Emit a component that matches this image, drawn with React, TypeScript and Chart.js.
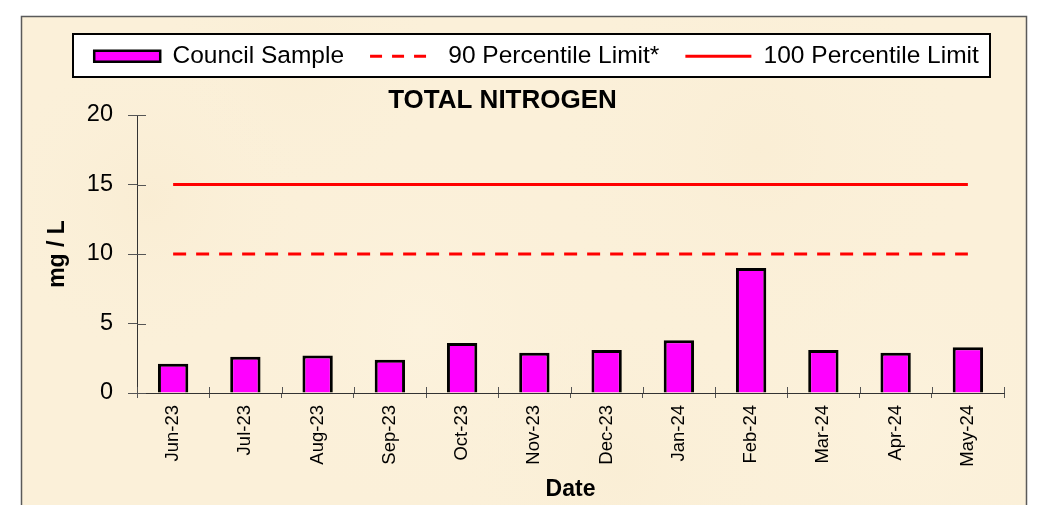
import { useEffect, useRef } from "react";
import { Chart, registerables } from "chart.js";

Chart.register(...registerables);

const months = ["Jun-23", "Jul-23", "Aug-23", "Sep-23", "Oct-23", "Nov-23", "Dec-23", "Jan-24", "Feb-24", "Mar-24", "Apr-24", "May-24"];
const councilSample = [2.1, 2.6, 2.7, 2.4, 3.6, 2.9, 3.1, 3.8, 9.0, 3.1, 2.9, 3.3];
const limit90 = [10, 10, 10, 10, 10, 10, 10, 10, 10, 10, 10, 10];
const limit100 = [15, 15, 15, 15, 15, 15, 15, 15, 15, 15, 15, 15];
const yTickValues = [0, 5, 10, 15, 20];

const FONT = "'Liberation Sans', Arial, sans-serif";

const framePlugin = {
  id: "framePlugin",
  afterLayout(chart: any) {
    const lg = chart.legend;
    if (lg) {
      lg.left += 24;
      lg.right += 24;
    }
    const tb = chart.titleBlock;
    if (tb) {
      tb.left -= 10;
      tb.right -= 10;
    }
  },
  beforeDraw(chart: any) {
    const ctx = chart.ctx;
    const W = chart.width;
    const H = chart.height;
    ctx.save();
    ctx.fillStyle = "#ffffff";
    ctx.fillRect(0, 0, W, H);
    // parchment background
    ctx.fillStyle = "#FBF0D9";
    ctx.fillRect(21, 16, 1006, H);
    const patches = [
      [150, 200, 160, "rgba(245,228,195,0.25)"],
      [420, 330, 200, "rgba(255,248,232,0.25)"],
      [760, 150, 220, "rgba(246,230,198,0.22)"],
      [900, 420, 180, "rgba(255,247,230,0.25)"],
      [300, 60, 150, "rgba(247,232,200,0.2)"],
      [620, 470, 170, "rgba(246,231,199,0.2)"],
    ];
    for (const [x, y, r, c] of patches as any) {
      const g = ctx.createRadialGradient(x, y, 0, x, y, r);
      g.addColorStop(0, c);
      g.addColorStop(1, "rgba(251,240,217,0)");
      ctx.fillStyle = g;
      ctx.fillRect(21, 16, 1006, H);
    }
    ctx.strokeStyle = "#5a5a5a";
    ctx.lineWidth = 1.5;
    ctx.strokeRect(21.5, 16.5, 1005, H + 10);
    // legend box
    ctx.fillStyle = "#ffffff";
    ctx.fillRect(73, 34, 917, 43);
    ctx.strokeStyle = "#000000";
    ctx.lineWidth = 2;
    ctx.strokeRect(73, 34, 917, 43);
    ctx.restore();
  },
  afterDatasetsDraw(chart: any) {
    const ctx = chart.ctx;
    const ys = chart.scales.y;
    const xs = chart.scales.x;
    const area = chart.chartArea;
    ctx.save();
    ctx.strokeStyle = "#555555";
    ctx.lineWidth = 1;
    ctx.beginPath();
    for (const v of yTickValues) {
      const py = Math.round(ys.getPixelForValue(v)) + 0.5;
      ctx.moveTo(area.left, py);
      ctx.lineTo(area.left + 9, py);
    }
    for (let i = 0; i <= months.length; i++) {
      const px = Math.round(xs.getPixelForValue(i - 0.5)) + 0.5;
      ctx.moveTo(px, area.bottom);
      ctx.lineTo(px, area.bottom - 6);
    }
    ctx.stroke();
    ctx.restore();
  },
};

export default function App() {
  const ref = useRef<HTMLCanvasElement | null>(null);

  useEffect(() => {
    const canvas = ref.current;
    if (!canvas) return;
    Chart.defaults.color = "#000000";
    Chart.defaults.font.family = FONT;

    const chart = new Chart(canvas, {
      type: "bar",
      data: {
        labels: months,
        datasets: [
          {
            type: "bar",
            label: "Council Sample",
            data: councilSample,
            backgroundColor: "#FF00FF",
            borderColor: "#000000",
            borderWidth: 3,
            categoryPercentage: 1,
            barPercentage: 0.42,
          } as any,
          {
            type: "line",
            label: "90 Percentile Limit*",
            data: limit90,
            borderColor: "#FF0000",
            backgroundColor: "#FF0000",
            borderWidth: 3,
            borderDash: [13, 10],
            pointRadius: 0,
            fill: false,
          } as any,
          {
            type: "line",
            label: "100 Percentile Limit",
            data: limit100,
            borderColor: "#FF0000",
            backgroundColor: "#FF0000",
            borderWidth: 3,
            pointRadius: 0,
            fill: false,
          } as any,
        ],
      },
      options: {
        responsive: false,
        animation: false,
        events: [],
        layout: { padding: { left: 21, right: 34, top: 18, bottom: 0 } },
        plugins: {
          tooltip: { enabled: false },
          legend: {
            display: true,
            position: "top",
            labels: {
              usePointStyle: true,
              pointStyleWidth: 66,
              boxHeight: 11,
              padding: 26,
              font: { size: 24.5, family: FONT },
              color: "#000000",
              generateLabels: (c: any) =>
                c.data.datasets.map((ds: any, i: number) => {
                  if (i === 0) {
                    return {
                      text: ds.label,
                      datasetIndex: i,
                      pointStyle: "rect",
                      fillStyle: "#FF00FF",
                      strokeStyle: "#000000",
                      lineWidth: 2.5,
                      hidden: false,
                    };
                  }
                  return {
                    text: ds.label,
                    datasetIndex: i,
                    pointStyle: "line",
                    fillStyle: "#FF0000",
                    strokeStyle: "#FF0000",
                    lineWidth: 3,
                    lineDash: i === 1 ? [12, 10] : [],
                    hidden: false,
                  };
                }),
            },
          },
          title: {
            display: true,
            text: "TOTAL NITROGEN",
            weight: 500,
            font: { size: 26, weight: "bold", family: FONT },
            color: "#000000",
            padding: { top: 6.5, bottom: -1.2 },
          },
        },
        scales: {
          x: {
            offset: true,
            grid: {
              display: true,
              offset: true,
              drawOnChartArea: false,
              drawTicks: true,
              tickLength: 5,
              color: "#555555",
            },
            border: { display: true, color: "#333333", width: 1 },
            ticks: {
              autoSkip: false,
              maxRotation: 90,
              minRotation: 90,
              padding: 7,
              font: { size: 18.5, family: FONT },
              color: "#000000",
            },
            title: {
              display: true,
              text: "Date",
              font: { size: 23, weight: "bold", family: FONT },
              color: "#000000",
              padding: { top: 0, bottom: 2 },
            },
            afterFit: (scale: any) => {
              scale.height = 112;
            },
          },
          y: {
            min: 0,
            max: 20,
            grid: {
              display: true,
              drawOnChartArea: false,
              drawTicks: true,
              tickLength: 9,
              color: "#555555",
            },
            border: { display: true, color: "#333333", width: 1 },
            ticks: {
              stepSize: 5,
              padding: 15,
              font: { size: 23.5, family: FONT },
              color: "#000000",
            },
            title: {
              display: true,
              text: "mg / L",
              font: { size: 23, weight: "bold", family: FONT },
              color: "#000000",
              padding: { top: 23, bottom: 0 },
            },
            afterFit: (scale: any) => {
              scale.width = 116;
            },
          },
        },
      },
      plugins: [framePlugin],
    } as any);

    return () => {
      chart.destroy();
    };
  }, []);

  return (
    <div style={{ position: "fixed", left: 0, top: 0, width: 1038, height: 505 }}>
      <canvas ref={ref} width={1038} height={505} style={{ display: "block" }} />
    </div>
  );
}
